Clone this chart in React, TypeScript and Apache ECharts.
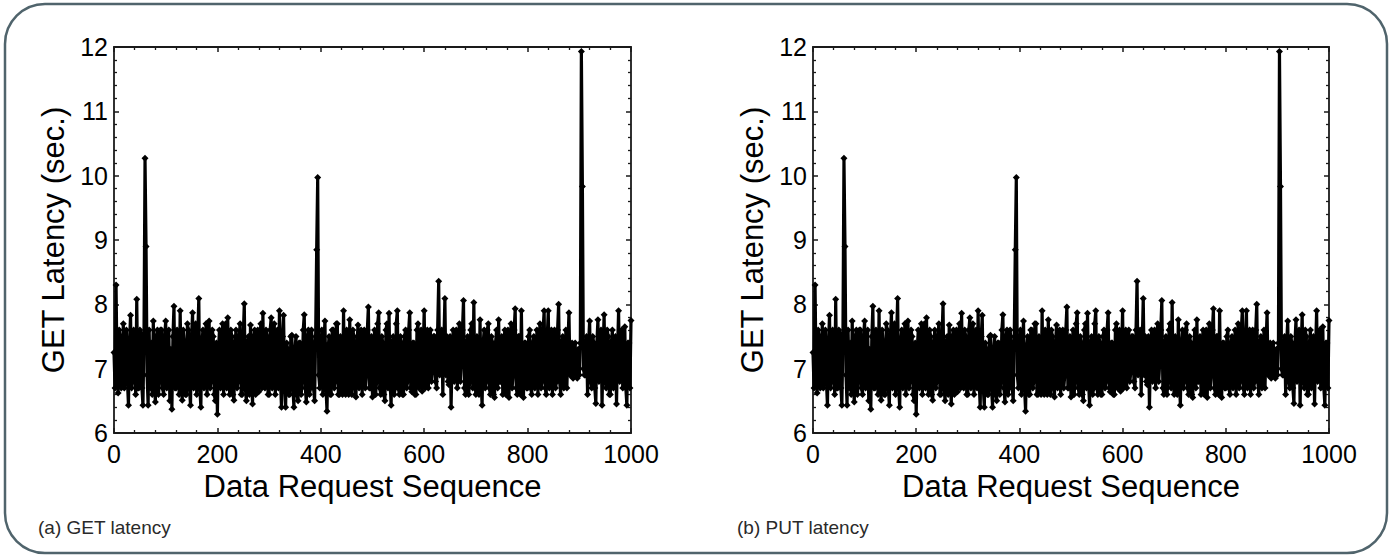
import React, { useEffect, useRef } from "react";
import * as echarts from "echarts";

const STEP = 2;

// GET latency (sec.), one value every STEP requests (0..1000)
const latency: number[] = [
  7.25, 6.7, 8.3, 6.9, 6.62, 7.6, 7.5, 6.7, 7.0, 7.7, 6.7, 7.5, 7.6, 6.8, 6.43, 7.4, 7.83, 6.7, 6.8, 7.6,
  7.3, 6.6, 8.08, 6.7, 6.7, 7.6, 7.55, 6.7, 6.43, 7.5, 10.27, 8.9, 6.9, 6.43, 7.6, 6.7, 7.4, 6.6, 7.74, 6.8,
  6.48, 7.5, 7.6, 6.6, 6.8, 7.6, 7.6, 6.7, 6.6, 7.5, 7.74, 6.7, 6.9, 7.6, 6.5, 7.3, 6.37, 7.5, 7.97, 6.7,
  6.7, 7.6, 7.5, 6.6, 7.9, 6.8, 6.51, 7.6, 7.4, 6.6, 6.6, 7.7, 7.6, 6.7, 6.43, 7.5, 7.87, 6.7, 7.0, 7.7,
  6.6, 7.5, 8.09, 6.7, 6.4, 7.4, 7.6, 6.7, 6.9, 7.7, 6.6, 7.3, 7.74, 6.7, 6.8, 7.6, 7.5, 6.6, 6.5, 7.4,
  6.29, 7.3, 7.6, 6.7, 6.9, 7.7, 6.6, 7.4, 7.7, 6.7, 7.79, 6.8, 6.6, 7.6, 7.5, 6.6, 6.51, 7.4, 7.6, 6.7,
  6.8, 7.5, 7.7, 6.6, 6.6, 7.5, 8.01, 6.7, 6.5, 7.4, 7.5, 6.6, 7.68, 6.8, 6.45, 7.5, 7.6, 6.6, 6.9, 7.6,
  6.64, 7.4, 7.7, 6.7, 7.86, 6.8, 6.7, 7.6, 7.5, 6.6, 6.6, 7.6, 7.79, 6.7, 6.9, 7.7, 6.6, 7.3, 7.6, 6.7,
  7.9, 6.8, 6.4, 7.5, 7.83, 6.7, 6.4, 7.4, 7.3, 6.6, 6.6, 7.5, 7.52, 6.7, 6.4, 7.3, 7.5, 6.6, 6.5, 7.4,
  7.4, 6.6, 6.8, 7.6, 7.84, 6.7, 6.48, 7.5, 7.6, 6.6, 6.7, 7.6, 7.4, 6.7, 6.5, 7.5, 8.85, 9.97, 6.9, 6.7,
  6.9, 7.6, 6.6, 7.4, 7.74, 6.7, 6.34, 7.3, 7.5, 6.6, 6.6, 7.6, 7.6, 6.7, 6.8, 7.7, 7.7, 6.6, 6.6, 7.5,
  7.4, 6.6, 7.9, 6.8, 6.6, 7.6, 7.4, 6.6, 7.76, 6.8, 6.6, 7.6, 7.5, 6.7, 6.56, 7.4, 7.68, 6.7, 6.9, 7.6,
  6.6, 7.4, 7.6, 6.7, 6.9, 7.6, 7.96, 6.7, 6.7, 7.5, 6.56, 7.3, 7.6, 6.6, 6.8, 7.7, 7.87, 6.7, 6.6, 7.5,
  7.4, 6.6, 6.5, 7.6, 7.7, 6.7, 7.86, 6.8, 6.43, 7.4, 7.5, 6.6, 6.7, 7.7, 7.9, 6.7, 6.6, 7.5, 7.4, 6.6,
  6.6, 7.5, 7.6, 6.7, 6.8, 7.6, 7.87, 6.7, 6.64, 7.4, 7.4, 6.6, 6.6, 7.6, 7.7, 6.7, 6.9, 7.6, 6.65, 7.3,
  7.9, 6.7, 7.0, 7.6, 6.7, 7.4, 7.6, 6.8, 6.95, 7.5, 7.5, 6.8, 6.7, 7.6, 8.36, 6.9, 7.1, 7.6, 6.6, 7.4,
  8.09, 6.9, 7.5, 6.8, 6.75, 7.5, 6.4, 7.2, 7.6, 6.8, 7.0, 7.6, 6.7, 7.4, 7.7, 6.8, 7.1, 7.6, 8.06, 6.7,
  6.6, 7.4, 7.5, 6.6, 6.8, 7.6, 7.7, 6.7, 8.03, 6.8, 6.6, 7.5, 7.4, 6.6, 7.76, 6.8, 6.43, 7.4, 7.6, 6.7,
  6.8, 7.6, 7.7, 6.7, 6.6, 7.5, 7.4, 6.6, 6.55, 7.4, 7.6, 6.7, 7.76, 6.8, 6.8, 7.5, 6.6, 7.4, 7.6, 6.6,
  6.9, 7.6, 6.55, 7.3, 7.7, 6.7, 6.9, 7.6, 7.93, 6.7, 6.6, 7.5, 7.5, 6.6, 7.9, 6.8, 6.55, 7.4, 7.4, 6.7,
  6.7, 7.5, 7.6, 6.7, 6.6, 7.4, 7.5, 6.7, 6.9, 7.6, 6.6, 7.4, 7.7, 6.7, 6.8, 7.6, 7.9, 6.7, 6.6, 7.5,
  7.9, 6.7, 7.0, 7.6, 6.6, 7.4, 7.6, 6.7, 6.8, 7.6, 8.0, 6.8, 6.6, 7.4, 7.5, 6.7, 6.9, 7.6, 6.7, 7.4,
  7.87, 6.9, 6.9, 7.4, 6.85, 7.3, 7.4, 6.9, 6.85, 7.3, 6.9, 7.4, 11.93, 9.83, 7.0, 6.9, 6.9, 7.5, 6.6, 7.4,
  7.74, 6.8, 6.7, 7.5, 7.4, 6.7, 6.46, 7.4, 7.76, 6.8, 6.9, 7.6, 6.43, 7.3, 7.84, 6.8, 6.7, 7.6, 7.5, 6.6,
  6.6, 7.4, 7.6, 6.7, 6.9, 7.5, 6.45, 7.3, 7.9, 6.8, 7.0, 7.6, 6.7, 7.4, 7.65, 6.7, 6.43, 7.4, 7.4, 6.7,
  7.75,
];

const xTickValues = [0, 200, 400, 600, 800, 1000];
const yTickValues = [6, 7, 8, 9, 10, 11, 12];
const captions = ["(a) GET latency", "(b) PUT latency"];
const xAxisTitle = "Data Request Sequence";
const yAxisTitle = "GET Latency (sec.)";

const FONT = "'Liberation Sans', Arial, Helvetica, sans-serif";
const AXIS_COLOR = "#1a1a1a";

export default function App() {
  const ref = useRef<HTMLDivElement>(null);

  useEffect(() => {
    if (!ref.current) return;
    const chart = echarts.init(ref.current, undefined, { renderer: "svg" });

    const points = latency.map((v, i) => [i * STEP, v]);
    const xMin = xTickValues[0];
    const xMax = xTickValues[xTickValues.length - 1];
    const yMin = yTickValues[0];
    const yMax = yTickValues[yTickValues.length - 1];

    const grids = [
      { left: 114, top: 47, width: 517, height: 386 },
      { left: 813, top: 47, width: 516, height: 386 },
    ];

    const tickStyle = {
      axisLine: { show: true, onZero: false, lineStyle: { color: AXIS_COLOR, width: 1.8 } },
      axisTick: { show: true, inside: true, length: 5, lineStyle: { color: AXIS_COLOR, width: 1.5 } },
      minorTick: { show: true, splitNumber: 5, length: 3, lineStyle: { color: AXIS_COLOR, width: 1.3 } },
      splitLine: { show: false },
      minorSplitLine: { show: false },
    };

    const xAxes: any[] = [];
    const yAxes: any[] = [];
    const series: any[] = [];

    grids.forEach((_, g) => {
      xAxes.push({
        gridIndex: g,
        type: "value",
        min: xMin,
        max: xMax,
        interval: 200,
        position: "bottom",
        ...tickStyle,
        axisLabel: {
          show: true,
          fontSize: 25,
          color: "#000",
          fontFamily: FONT,
          margin: 8,
          formatter: (v: number) => String(v),
        },
        name: xAxisTitle,
        nameLocation: "middle",
        nameGap: 38,
        nameTextStyle: { fontSize: 31, color: "#000", fontFamily: FONT },
      });
      xAxes.push({
        gridIndex: g,
        type: "value",
        min: xMin,
        max: xMax,
        interval: 200,
        position: "top",
        ...tickStyle,
        axisLabel: { show: false },
      });
      yAxes.push({
        gridIndex: g,
        type: "value",
        min: yMin,
        max: yMax,
        interval: 1,
        position: "left",
        ...tickStyle,
        axisLabel: {
          show: true,
          fontSize: 25,
          color: "#000",
          fontFamily: FONT,
          margin: 6,
          formatter: (v: number) => String(v),
        },
        name: yAxisTitle,
        nameLocation: "middle",
        nameGap: 45,
        nameTextStyle: { fontSize: 31, color: "#000", fontFamily: FONT },
      });
      yAxes.push({
        gridIndex: g,
        type: "value",
        min: yMin,
        max: yMax,
        interval: 1,
        position: "right",
        ...tickStyle,
        axisLabel: { show: false },
      });
      series.push({
        type: "line",
        xAxisIndex: g * 2,
        yAxisIndex: g * 2,
        data: points,
        symbol: "diamond",
        symbolSize: 7,
        showSymbol: true,
        showAllSymbol: true,
        lineStyle: { color: "#000", width: 3.2 },
        itemStyle: { color: "#000" },
        silent: true,
        clip: true,
      });
    });

    chart.setOption({
      animation: false,
      backgroundColor: "#fff",
      grid: grids,
      xAxis: xAxes,
      yAxis: yAxes,
      series,
      graphic: [
        {
          type: "rect",
          shape: { x: 5, y: 4, width: 1382, height: 549, r: 40 },
          style: { fill: "none", stroke: "#50646c", lineWidth: 2.5 },
          silent: true,
        },
        {
          type: "text",
          x: 38,
          y: 527,
          style: { text: captions[0], fontSize: 19, fill: "#2a2a2a", fontFamily: FONT, verticalAlign: "middle" },
        },
        {
          type: "text",
          x: 737,
          y: 527,
          style: { text: captions[1], fontSize: 19, fill: "#2a2a2a", fontFamily: FONT, verticalAlign: "middle" },
        },
      ],
    });

    return () => chart.dispose();
  }, []);

  return (
    <div
      ref={ref}
      style={{ position: "absolute", left: 0, top: 0, width: 1394, height: 556, background: "#fff" }}
    />
  );
}
